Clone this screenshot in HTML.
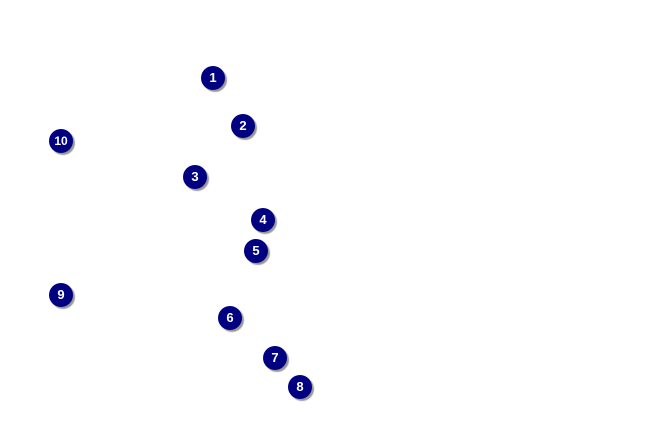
<!DOCTYPE html>
<html><head><style>
body{margin:0;width:650px;height:425px;background:#fff;position:relative;overflow:hidden;font-family:"Liberation Sans",sans-serif}
.m{position:absolute;width:24px;height:24px;border-radius:50%;background:#000080;color:#fff;font-weight:bold;font-size:13px;line-height:24px;text-align:center;box-shadow:2px 2px 1px #999}
</style></head><body>
<div class="m" style="left:201px;top:66px">1</div>
<div class="m" style="left:231px;top:114px">2</div>
<div class="m" style="left:49px;top:129px;font-size:12px">10</div>
<div class="m" style="left:183px;top:165px">3</div>
<div class="m" style="left:251px;top:208px">4</div>
<div class="m" style="left:244px;top:239px">5</div>
<div class="m" style="left:49px;top:283px">9</div>
<div class="m" style="left:218px;top:306px">6</div>
<div class="m" style="left:263px;top:346px">7</div>
<div class="m" style="left:288px;top:375px">8</div>
</body></html>
